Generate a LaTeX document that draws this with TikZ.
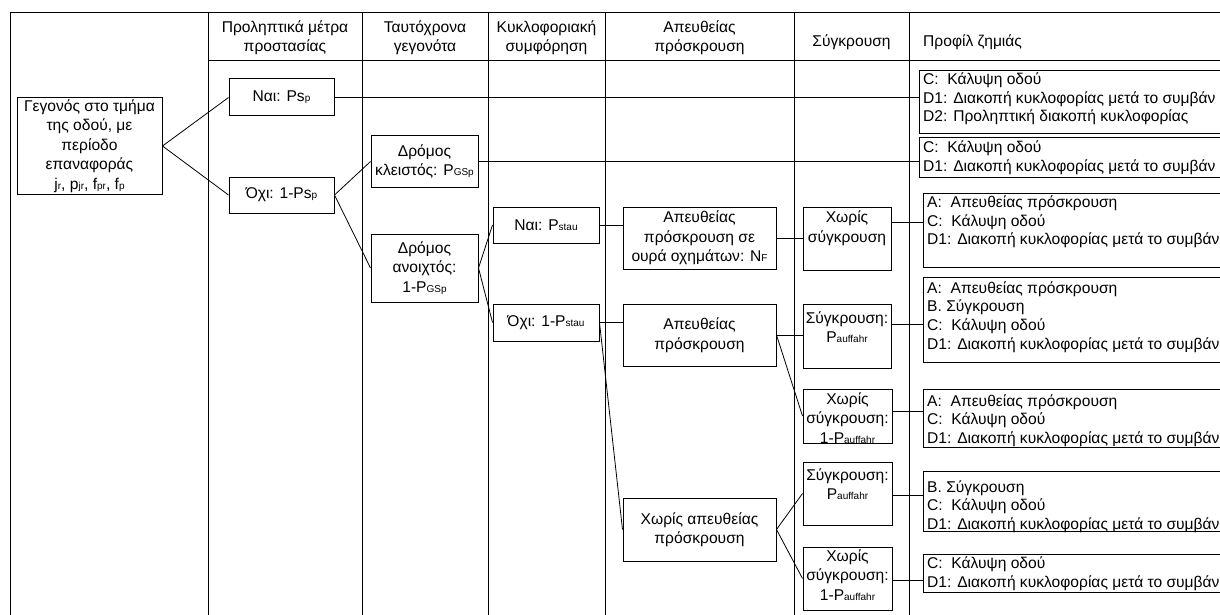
\documentclass[tikz,border=0pt]{standalone}
\usepackage{fontspec}
\setmainfont{Liberation Sans}
\usetikzlibrary{calc}
% small lowered index letters (P_stau, N_F, ...)
\newcommand\lo[1]{{\fontsize{10pt}{10pt}\selectfont #1}}
\newcommand\boxfont{\fontsize{15.6pt}{19.5pt}\selectfont}
\newcommand\listfont{\fontsize{15.6pt}{18.7pt}\selectfont}

\begin{document}
\begin{tikzpicture}[x=1pt,y=-1pt,
  gridline/.style={line width=1pt, draw=black},
  box/.style={draw, line width=1pt, fill=white, inner sep=0pt, align=center, font=\boxfont},
  lbl/.style={inner sep=0pt, align=center, font=\boxfont},
  head/.style={inner sep=0pt, align=center, font=\boxfont},
  pbox/.style={draw, line width=1pt, fill=white, inner sep=0pt, anchor=north west, minimum width=330},
  ptext/.style={inner sep=0pt, align=left, anchor=west, font=\listfont},
  link/.style={line width=0.8pt}]
\useasboundingbox (0,0) rectangle (1220,615);
\clip (0,0) rectangle (1220,615);

% table frame
\draw[gridline] (10,640) -- (10,13) -- (1240,13);
\draw[gridline] (208,61) -- (1240,61);
\foreach \cx in {208,362,488,605,794,909}
  \draw[gridline] (\cx,13) -- (\cx,640);

% column headings
\node[head] (h1) at (285,37.5) {Προληπτικά μέτρα\\προστασίας};
\node[head] (h2) at (425,37.5) {Ταυτόχρονα\\γεγονότα};
\node[head] (h3) at (546.5,37.5) {Κυκλοφοριακή\\συμφόρηση};
\node[head] (h4) at (699.5,37.5) {Απευθείας\\πρόσκρουση};
\node[head] (h5) at (851.5,42) {Σύγκρουση};
\node[head, anchor=west] (h6) at (923,42) {Προφίλ ζημιάς};

% event tree boxes
\node[box, minimum width=145, minimum height=96] (root) at (89.5,146)
  {Γεγονός στο τμήμα\\της οδού, με\\περίοδο\\επαναφοράς\\j\lo{r}, p\lo{jr}, f\lo{pr}, f\lo{p}};
\node[box, minimum width=105, minimum height=37] (nai1) at (281.5,97.5) {Ναι: Ps\lo{p}};
\node[box, minimum width=105, minimum height=36] (oxi1) at (281.5,195) {Όχι: 1-Ps\lo{p}};
\node[box, minimum width=107, minimum height=51] (closed) at (424.5,161.5) {Δρόμος\\κλειστός: P\lo{GSp}};
\node[box, minimum width=107, minimum height=68] (open) at (424.5,268) {Δρόμος\\ανοιχτός:\\1-P\lo{GSp}};
\node[box, minimum width=106, minimum height=36] (nai2) at (546,225) {Ναι: P\lo{stau}};
\node[box, minimum width=106, minimum height=37] (oxi2) at (546,322.5) {Όχι: 1-P\lo{stau}};
\node[box, minimum width=153, minimum height=62] (queue) at (699.5,238) {Απευθείας\\πρόσκρουση σε\\ουρά οχημάτων: N\lo{F}};
\node[box, minimum width=153, minimum height=62] (hit) at (699.5,335) {Απευθείας\\πρόσκρουση};
\node[box, minimum width=153, minimum height=63] (nohit) at (699.5,529.5) {Χωρίς απευθείας\\πρόσκρουση};

\node[box, minimum width=88, minimum height=63] (c1) at (847,238.5) {};
\node[lbl] (c1t) at ([yshift=10.5pt]c1.center) {Χωρίς\\σύγκρουση};
\node[box, minimum width=88, minimum height=64] (c2) at (847,336) {};
\node[lbl] (c2t) at ([yshift=9pt]c2.center) {Σύγκρουση:\\P\lo{auffahr}};
\node[box, minimum width=89, minimum height=54] (c3) at (847.5,416) {};
\node[lbl] (c3t) at ([yshift=-2pt]c3.center) {Χωρίς\\σύγκρουση:\\1-P\lo{auffahr}};
\node[box, minimum width=89, minimum height=63] (c4) at (847.5,493.5) {};
\node[lbl] (c4t) at ([yshift=9.5pt]c4.center) {Σύγκρουση:\\P\lo{auffahr}};
\node[box, minimum width=89, minimum height=63] (c5) at (847.5,578.5) {};
\node[lbl] (c5t) at ([yshift=3.5pt]c5.center) {Χωρίς\\σύγκρουση:\\1-P\lo{auffahr}};

% damage profiles
\node[pbox, minimum height=63] (p1) at (919,70) {};
\node[ptext] (p1t) at ([xshift=4pt,yshift=3pt]p1.west)
  {C:~ Κάλυψη οδού\\D1: Διακοπή κυκλοφορίας μετά το συμβάν\\D2: Προληπτική διακοπή κυκλοφορίας};
\node[pbox, minimum height=40] (p2) at (919,137) {};
\node[ptext] (p2t) at ([xshift=4pt]p2.west)
  {C:~ Κάλυψη οδού\\D1: Διακοπή κυκλοφορίας μετά το συμβάν};
\node[pbox, minimum height=74] (p3) at (923,193) {};
\node[ptext] (p3t) at ([xshift=4pt,yshift=8.5pt]p3.west)
  {A:~ Απευθείας πρόσκρουση\\C:~ Κάλυψη οδού\\D1: Διακοπή κυκλοφορίας μετά το συμβάν};
\node[pbox, minimum height=85] (p4) at (923,277) {};
\node[ptext] (p4t) at ([xshift=4pt,yshift=3pt]p4.west)
  {A:~ Απευθείας πρόσκρουση\\B. Σύγκρουση\\C:~ Κάλυψη οδού\\D1: Διακοπή κυκλοφορίας μετά το συμβάν};
\node[pbox, minimum height=58] (p5) at (923,389) {};
\node[ptext] (p5t) at ([xshift=4pt,yshift=-2pt]p5.west)
  {A:~ Απευθείας πρόσκρουση\\C:~ Κάλυψη οδού\\D1: Διακοπή κυκλοφορίας μετά το συμβάν};
\node[pbox, minimum height=60] (p6) at (923,471) {};
\node[ptext] (p6t) at ([xshift=4pt,yshift=-5pt]p6.west)
  {B. Σύγκρουση\\C:~ Κάλυψη οδού\\D1: Διακοπή κυκλοφορίας μετά το συμβάν};
\node[pbox, minimum height=38] (p7) at (923,554) {};
\node[ptext] (p7t) at ([xshift=4pt]p7.west)
  {C:~ Κάλυψη οδού\\D1: Διακοπή κυκλοφορίας μετά το συμβάν};

% branches
\draw[link] (root.east) -- (nai1.west);
\draw[link] (root.east) -- (oxi1.west);
\draw[link] (nai1.east) -- (nai1.east -| p1.west);
\draw[link] (oxi1.east) -- (closed.west);
\draw[link] (oxi1.east) -- (open.west);
\draw[link] (closed.east) -- (closed.east -| p2.west);
\draw[link] (open.east) -- (nai2.west);
\draw[link] (open.east) -- (oxi2.west);
\draw[link] (nai2.east) -- (nai2.east -| queue.west);
\draw[link] (oxi2.east) -- (oxi2.east -| hit.west);
\draw[link] (oxi2.east) -- (nohit.west);
\draw[link] (queue.east) -- (queue.east -| c1.west);
\draw[link] (hit.east) -- (hit.east -| c2.west);
\draw[link] (hit.east) -- (c3.west);
\draw[link] (nohit.east) -- (c4.west);
\draw[link] (nohit.east) -- (c5.west);
\draw[link] ([yshift=16.5pt]c1.east) -- ([yshift=16.5pt]c1.east -| p3.west);
\draw[link] ([yshift=12pt]c2.east) -- ([yshift=12pt]c2.east -| p4.west);
\draw[link] ([yshift=5pt]c3.east) -- ([yshift=5pt]c3.east -| p5.west);
\draw[link] ([yshift=-1.5pt]c4.east) -- ([yshift=-1.5pt]c4.east -| p6.west);
\draw[link] ([yshift=-1.5pt]c5.east) -- ([yshift=-1.5pt]c5.east -| p7.west);
\end{tikzpicture}
\end{document}
